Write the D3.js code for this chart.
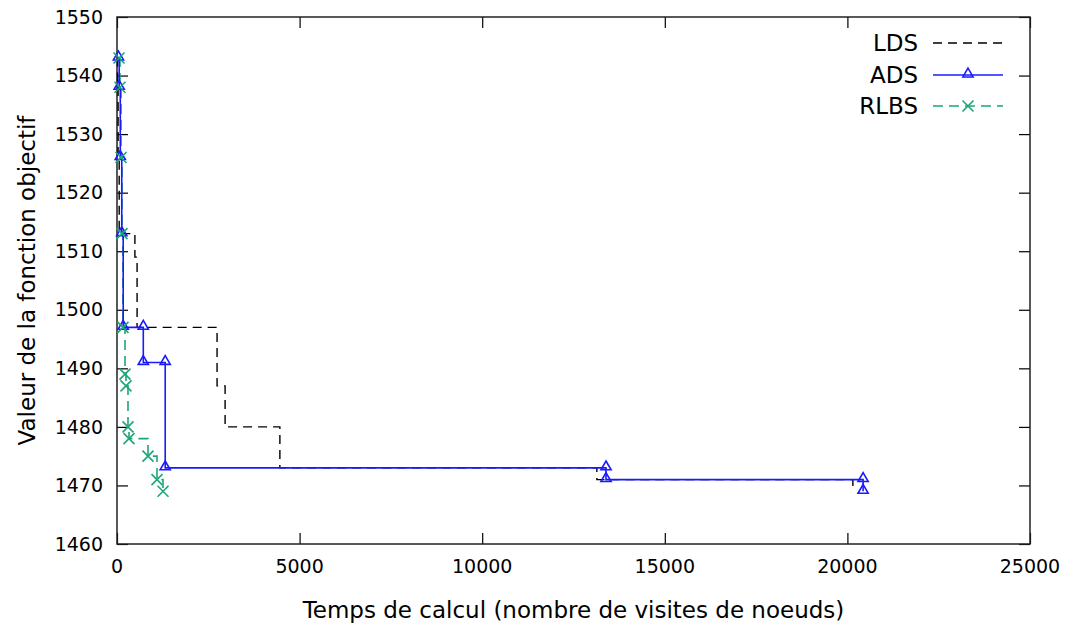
<!DOCTYPE html>
<html>
<head>
<meta charset="utf-8">
<script src="https://d3js.org/d3.v7.min.js"></script>
<style>
  body { margin: 0; background: #fff; }
  text { font-family: "DejaVu Sans", Verdana, sans-serif; fill: #000; }
</style>
</head>
<body>
<div id="my_dataviz"></div>

<script>

var ldsX   = [0, 15, 30, 60, 490, 550, 2740, 2960, 4460, 13140, 20150];
var ldsY   = [1543, 1538, 1526, 1513, 1509, 1497, 1487, 1480, 1473, 1471, 1469];

var adsX   = [40, 60, 90, 130, 170, 720, 720, 1320, 1320, 13390, 13390, 20430, 20430];
var adsY   = [1543, 1538, 1526, 1513, 1497, 1497, 1491, 1491, 1473, 1473, 1471, 1471, 1469];

var rlbsX  = [55, 82, 110, 137, 164, 219, 246, 301, 329, 849, 1095, 1260];
var rlbsY  = [1543, 1538, 1526, 1513, 1497, 1489, 1487, 1480, 1478, 1475, 1471, 1469];

var xTicks = [0, 5000, 10000, 15000, 20000, 25000];
var yTicks = [1460, 1470, 1480, 1490, 1500, 1510, 1520, 1530, 1540, 1550];

var width = 1070, height = 631;
var margin = {left: 117, right: 1030, top: 17, bottom: 544};

var svg = d3.select("#my_dataviz")
  .append("svg")
    .attr("width", width)
    .attr("height", height);

var x = d3.scaleLinear().domain([0, 25000]).range([margin.left, margin.right]);
var y = d3.scaleLinear().domain([1460, 1550]).range([margin.bottom, margin.top]);

// ticks on all four sides, pointing inward (gnuplot style)
function noDomain(g) { g.select(".domain").remove(); }

svg.append("g")
  .attr("transform", "translate(0," + margin.bottom + ")")
  .call(d3.axisTop(x).tickValues(xTicks).tickSize(11).tickFormat(""))
  .call(noDomain);
svg.append("g")
  .attr("transform", "translate(0," + margin.top + ")")
  .call(d3.axisBottom(x).tickValues(xTicks).tickSize(11).tickFormat(""))
  .call(noDomain);
svg.append("g")
  .attr("transform", "translate(" + margin.left + ",0)")
  .call(d3.axisRight(y).tickValues(yTicks).tickSize(11).tickFormat(""))
  .call(noDomain);
svg.append("g")
  .attr("transform", "translate(" + margin.right + ",0)")
  .call(d3.axisLeft(y).tickValues(yTicks).tickSize(11).tickFormat(""))
  .call(noDomain);

svg.selectAll(".tick line").attr("stroke", "#000").attr("stroke-width", 1.2);

// tick labels
svg.append("g").selectAll("text")
  .data(xTicks)
  .enter().append("text")
    .attr("x", function(d) { return x(d); })
    .attr("y", 573)
    .attr("text-anchor", "middle")
    .style("font-size", "19px")
    .text(function(d) { return d; });

svg.append("g").selectAll("text")
  .data(yTicks)
  .enter().append("text")
    .attr("x", 103)
    .attr("y", function(d) { return y(d); })
    .attr("dy", "0.35em")
    .attr("text-anchor", "end")
    .style("font-size", "19px")
    .text(function(d) { return d; });

// frame
svg.append("rect")
  .attr("x", margin.left).attr("y", margin.top)
  .attr("width", margin.right - margin.left).attr("height", margin.bottom - margin.top)
  .attr("fill", "none")
  .attr("stroke", "#222")
  .attr("stroke-width", 1.5);

// axis titles
svg.append("text")
  .attr("x", (margin.left + margin.right) / 2)
  .attr("y", 618)
  .attr("text-anchor", "middle")
  .style("font-size", "23px")
  .text("Temps de calcul (nombre de visites de noeuds)");

svg.append("text")
  .attr("transform", "translate(35," + ((margin.top + margin.bottom) / 2) + ") rotate(-90)")
  .attr("text-anchor", "middle")
  .style("font-size", "23px")
  .text("Valeur de la fonction objectif");

function pts(xs, ys) {
  return xs.map(function(d, i) { return [d, ys[i]]; });
}

var line = d3.line()
  .x(function(d) { return x(d[0]); })
  .y(function(d) { return y(d[1]); })
  .curve(d3.curveStepAfter);

var blue = "#1a1aff", green = "#1ea676";

// LDS
svg.append("path")
  .attr("d", line(pts(ldsX, ldsY)))
  .attr("fill", "none")
  .attr("stroke", "#000")
  .attr("stroke-width", 1.4)
  .attr("stroke-dasharray", "9,6");

// RLBS
var rlbs = pts(rlbsX, rlbsY);
svg.append("path")
  .attr("d", line(rlbs))
  .attr("fill", "none")
  .attr("stroke", green)
  .attr("stroke-width", 1.6)
  .attr("stroke-dasharray", "10,6");

// ADS
var ads = pts(adsX, adsY);
svg.append("path")
  .attr("d", line(ads))
  .attr("fill", "none")
  .attr("stroke", blue)
  .attr("stroke-width", 1.6);

var tri = d3.symbol().type(d3.symbolTriangle).size(45);

function drawTri(g, cx, cy) {
  g.append("path")
    .attr("d", tri())
    .attr("transform", "translate(" + cx + "," + (cy - 1) + ")")
    .attr("fill", "none")
    .attr("stroke", blue)
    .attr("stroke-width", 1.6);
}

function drawCross(g, cx, cy) {
  var r = 5.5;
  g.append("path")
    .attr("d", "M" + (cx - r) + "," + (cy - r) + "L" + (cx + r) + "," + (cy + r) +
               "M" + (cx - r) + "," + (cy + r) + "L" + (cx + r) + "," + (cy - r))
    .attr("stroke", green)
    .attr("stroke-width", 1.6);
}

var marks = svg.append("g");
ads.forEach(function(d) { drawTri(marks, x(d[0]), y(d[1])); });
rlbs.forEach(function(d) { drawCross(marks, x(d[0]), y(d[1])); });

// legend
var legNames = ["LDS", "ADS", "RLBS"];
var legY = [43, 75, 106];

var leg = svg.append("g");
legNames.forEach(function(name, i) {
  leg.append("text")
    .attr("x", 918)
    .attr("y", legY[i])
    .attr("dy", "0.35em")
    .attr("text-anchor", "end")
    .style("font-size", "23px")
    .text(name);
});

leg.append("line")
  .attr("x1", 933).attr("x2", 1003).attr("y1", legY[0]).attr("y2", legY[0])
  .attr("stroke", "#000").attr("stroke-width", 1.4).attr("stroke-dasharray", "9,6");
leg.append("line")
  .attr("x1", 933).attr("x2", 1003).attr("y1", legY[1]).attr("y2", legY[1])
  .attr("stroke", blue).attr("stroke-width", 1.6);
drawTri(leg, 968, legY[1]);
leg.append("line")
  .attr("x1", 933).attr("x2", 1003).attr("y1", legY[2]).attr("y2", legY[2])
  .attr("stroke", green).attr("stroke-width", 1.6).attr("stroke-dasharray", "10,6");
drawCross(leg, 968, legY[2]);

</script>
</body>
</html>
